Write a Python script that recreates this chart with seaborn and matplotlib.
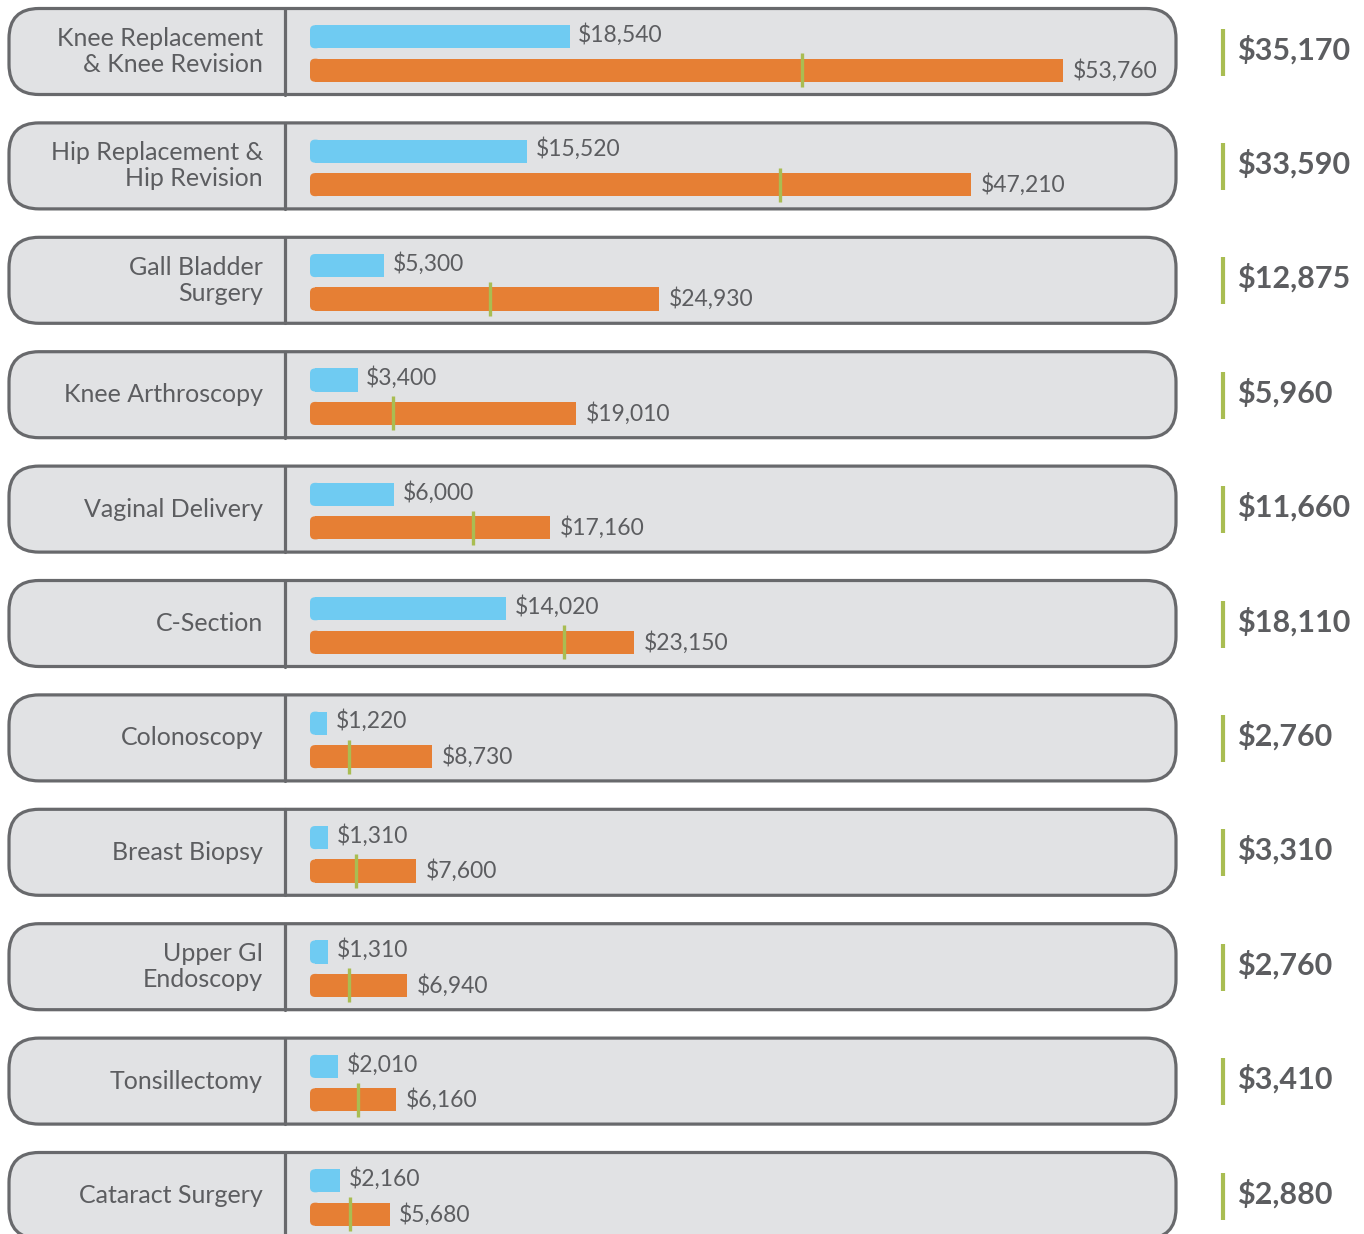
import matplotlib
matplotlib.use("Agg")
import matplotlib.pyplot as plt
from matplotlib.patches import FancyBboxPatch
import numpy as np
import pandas as pd
import seaborn as sns

# ---- Data ----
procedures = [
    "Knee Replacement\n& Knee Revision",
    "Hip Replacement &\nHip Revision",
    "Gall Bladder\nSurgery",
    "Knee Arthroscopy",
    "Vaginal Delivery",
    "C-Section",
    "Colonoscopy",
    "Breast Biopsy",
    "Upper GI\nEndoscopy",
    "Tonsillectomy",
    "Cataract Surgery",
]
low_cost  = [18540, 15520, 5300, 3400, 6000, 14020, 1220, 1310, 1310, 2010, 2160]
high_cost = [53760, 47210, 24930, 19010, 17160, 23150, 8730, 7600, 6940, 6160, 5680]
fair_cost = [35170, 33590, 12875, 5960, 11660, 18110, 2760, 3310, 2760, 3410, 2880]

# ---- Style ----
BLUE   = "#6fcbf2"
ORANGE = "#e67f34"
GREEN  = "#a9bd52"
BOX_FILL = "#e1e2e4"
EDGE   = "#68696c"
TEXT   = "#5c5d60"

sns.set_style("white")
plt.rcParams["font.family"] = ["Lato", "DejaVu Sans"]

# ---- Layout (pixels) ----
W, H = 1364, 1234
ROW0, STEP = 51.5, 114.4        # centre of first row, row pitch
BAR_SHIFT = 2                   # bars sit a touch below box centre
PX_PER_DOLLAR = 0.014           # bar scale
BAR_LEFT, AX_LEFT, AX_RIGHT = 310, 286, 1176
OFF = 0.146                     # dodge offset of each bar (category units)

fig = plt.figure(figsize=(W / 100, H / 100), dpi=100)

# background: rounded boxes, labels, fair-price column
bg = fig.add_axes([0, 0, 1, 1])
bg.set_xlim(0, W)
bg.set_ylim(H, 0)
bg.axis("off")

for i, name in enumerate(procedures):
    cy = ROW0 + STEP * i
    bg.add_patch(FancyBboxPatch((9, cy - 43), 1167, 86,
                                boxstyle="round,pad=0,rounding_size=30",
                                fc=BOX_FILL, ec=EDGE, lw=2.3))
    bg.plot([285, 285], [cy - 43, cy + 43], color=EDGE, lw=2.3)
    bg.text(263, cy, name, ha="right", va="center", multialignment="right",
            fontsize=18, color=TEXT, linespacing=1.15)
    bg.plot([1223, 1223], [cy - 23, cy + 24], color=GREEN, lw=3,
            solid_capstyle="butt")
    bg.text(1237, cy - 2, f"\\${fair_cost[i]:,}", ha="left", va="center",
            fontsize=22, fontweight="bold", color=TEXT)

# ---- Bars ----
df = pd.DataFrame({
    "procedure": procedures * 2,
    "kind": ["low"] * len(procedures) + ["high"] * len(procedures),
    "cost": low_cost + high_cost,
})

ax = fig.add_axes([AX_LEFT / W, 0, (AX_RIGHT - AX_LEFT) / W, 1])
ax.patch.set_alpha(0)
sns.barplot(data=df, x="cost", y="procedure", hue="kind", orient="h",
            palette={"low": BLUE, "high": ORANGE}, width=0.585, gap=0.31,
            saturation=1, linewidth=0, legend=False, ax=ax)

x0 = -(BAR_LEFT - AX_LEFT) / PX_PER_DOLLAR
ax.set_xlim(x0, x0 + (AX_RIGHT - AX_LEFT) / PX_PER_DOLLAR)
ax.set_ylim((H - ROW0 - BAR_SHIFT) / STEP, -(ROW0 + BAR_SHIFT) / STEP)
ax.axis("off")

# round the left end of each bar
r_x = 5 / PX_PER_DOLLAR
r_y = 5 / STEP
for p in list(ax.patches):
    px, py, pw, ph = p.get_x(), p.get_y(), p.get_width(), p.get_height()
    if pw <= 0:
        continue
    p.set_x(px + r_x)
    p.set_width(pw - r_x)
    ax.add_patch(FancyBboxPatch((px, py), 2.2 * r_x, ph,
                                boxstyle=f"round,pad=0,rounding_size={r_x}",
                                mutation_aspect=r_y / r_x,
                                fc=p.get_facecolor(), lw=0))

# fair-price markers on the orange bars
ax.vlines(fair_cost, np.arange(len(procedures)) + OFF - 0.149,
          np.arange(len(procedures)) + OFF + 0.149,
          color=GREEN, lw=2.4, zorder=5)

# value labels
for i in range(len(procedures)):
    ax.annotate(f"\\${low_cost[i]:,}", xy=(low_cost[i], i - OFF - 0.02),
                xytext=(6, 0), textcoords="offset points",
                ha="left", va="center", fontsize=16.5, color=TEXT)
    ax.annotate(f"\\${high_cost[i]:,}", xy=(high_cost[i], i + OFF),
                xytext=(7, 0), textcoords="offset points",
                ha="left", va="center", fontsize=16.5, color=TEXT)

fig.savefig("out.png", dpi=100)
